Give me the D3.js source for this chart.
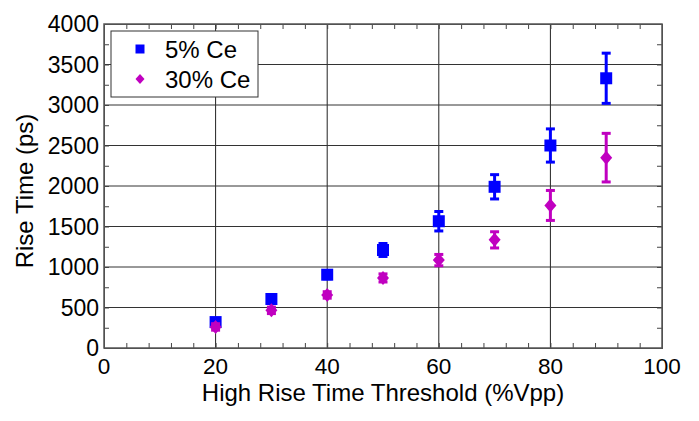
<!DOCTYPE html>
<html>
<head>
<meta charset="utf-8">
<script src="https://cdn.jsdelivr.net/npm/d3@7/dist/d3.min.js"></script>
<style>
  html, body { margin: 0; padding: 0; background: #fff; }
  svg { display: block; font-family: "Liberation Sans", Arial, sans-serif; }
</style>
</head>
<body>
<svg id="chart" width="699" height="421"></svg>
<script>
// ---- data ----
const thresholds = [20, 30, 40, 50, 60, 70, 80, 90];
const ce5 = [320, 605, 905, 1210, 1565, 1990, 2500, 3330];
const ce5Err = [40, 40, 50, 80, 120, 150, 205, 310];
const ce30 = [260, 465, 655, 865, 1085, 1335, 1760, 2350];
const ce30Err = [40, 40, 40, 50, 70, 100, 185, 300];
const xTicks = [0, 20, 40, 60, 80, 100];
const yTicks = [0, 500, 1000, 1500, 2000, 2500, 3000, 3500, 4000];
const seriesNames = ["5% Ce", "30% Ce"];
const xTitle = "High Rise Time Threshold (%Vpp)";
const yTitle = "Rise Time (ps)";

// ---- layout ----
const svg = d3.select("#chart");
const L = 104, R = 662, T = 24, B = 348;
const x = d3.scaleLinear().domain([0, 100]).range([L, R]);
const y = d3.scaleLinear().domain([0, 4000]).range([B, T]);
const blue = "#0000ff", mag = "#c000c0";

// grid
const g = svg.append("g");
g.selectAll("line.gx").data(xTicks.filter(d => d > 0 && d < 100)).enter()
  .append("line").attr("x1", d => x(d)).attr("x2", d => x(d))
  .attr("y1", T).attr("y2", B).attr("stroke", "#222").attr("stroke-width", 1);
g.selectAll("line.gy").data(yTicks.filter(d => d > 0 && d < 4000)).enter()
  .append("line").attr("y1", d => y(d)).attr("y2", d => y(d))
  .attr("x1", L).attr("x2", R).attr("stroke", "#333").attr("stroke-width", 1);

// axes with inward ticks
const minorX = d3.range(0, 101, 4);
const minorY = d3.range(0, 4001, 250);
svg.append("g").attr("transform", `translate(0,${B})`)
  .call(d3.axisBottom(x).tickValues(minorX).tickSize(-5).tickFormat(""))
  .call(a => a.selectAll("line,path").attr("stroke", "#444"));
svg.append("g").attr("transform", `translate(0,${T})`)
  .call(d3.axisTop(x).tickValues(minorX).tickSize(-5).tickFormat(""))
  .call(a => a.selectAll("line,path").attr("stroke", "#444"));
svg.append("g").attr("transform", `translate(${L},0)`)
  .call(d3.axisLeft(y).tickValues(minorY).tickSize(-5).tickFormat(""))
  .call(a => a.selectAll("line,path").attr("stroke", "#444"));
svg.append("g").attr("transform", `translate(${R},0)`)
  .call(d3.axisRight(y).tickValues(minorY).tickSize(-5).tickFormat(""))
  .call(a => a.selectAll("line,path").attr("stroke", "#444"));

// frame
svg.append("rect").attr("x", L).attr("y", T).attr("width", R - L).attr("height", B - T)
  .attr("fill", "none").attr("stroke", "#555").attr("stroke-width", 1.5);

// tick labels
svg.append("g").selectAll("text").data(xTicks).enter().append("text")
  .attr("x", d => x(d)).attr("y", 374).attr("text-anchor", "middle")
  .attr("font-size", 22.5).attr("fill", "#000").text(d => d);
svg.append("g").selectAll("text").data(yTicks).enter().append("text")
  .attr("x", 99).attr("y", d => y(d) + 8).attr("text-anchor", "end")
  .attr("font-size", 23).attr("fill", "#000").text(d => d);

// titles
svg.append("text").attr("x", (L + R) / 2).attr("y", 401).attr("text-anchor", "middle")
  .attr("font-size", 24).attr("fill", "#000").text(xTitle);
svg.append("text").attr("transform", `translate(33,${191}) rotate(-90)`)
  .attr("text-anchor", "middle").attr("font-size", 24).attr("fill", "#000").text(yTitle);

// error bars + markers
function drawSeries(vals, errs, color, shape) {
  const gg = svg.append("g");
  const data = thresholds.map((t, i) => ({ t, v: vals[i], e: errs[i] }));
  gg.selectAll("line.eb").data(data).enter().append("line")
    .attr("x1", d => x(d.t)).attr("x2", d => x(d.t))
    .attr("y1", d => y(d.v - d.e)).attr("y2", d => y(d.v + d.e))
    .attr("stroke", color).attr("stroke-width", 3);
  [1, -1].forEach(s => {
    gg.selectAll(null).data(data).enter().append("line")
      .attr("x1", d => x(d.t) - 4.5).attr("x2", d => x(d.t) + 4.5)
      .attr("y1", d => y(d.v + s * d.e)).attr("y2", d => y(d.v + s * d.e))
      .attr("stroke", color).attr("stroke-width", 3);
  });
  gg.selectAll("path.m").data(data).enter().append("path")
    .attr("d", shape).attr("fill", color)
    .attr("transform", d => `translate(${x(d.t)},${y(d.v)})`);
}
const squarePath = "M-6,-6H6V6H-6Z";
const diamondPath = "M0,-7L6,0L0,7L-6,0Z";
drawSeries(ce5, ce5Err, blue, squarePath);
drawSeries(ce30, ce30Err, mag, diamondPath);

// legend
const lg = svg.append("g");
lg.append("rect").attr("x", 111).attr("y", 31).attr("width", 147).attr("height", 66)
  .attr("fill", "#fff").attr("stroke", "#333").attr("stroke-width", 1);
const legendItems = [
  { name: seriesNames[0], color: blue, shape: "M-4.5,-4.5H4.5V4.5H-4.5Z", cy: 49 },
  { name: seriesNames[1], color: mag, shape: "M0,-5L4.5,0L0,5L-4.5,0Z", cy: 79 }
];
legendItems.forEach(it => {
  lg.append("path").attr("d", it.shape).attr("fill", it.color)
    .attr("transform", `translate(140,${it.cy})`);
  lg.append("text").attr("x", 165).attr("y", it.cy + 9).attr("font-size", 24)
    .attr("fill", "#000").text(it.name);
});
</script>
</body>
</html>
